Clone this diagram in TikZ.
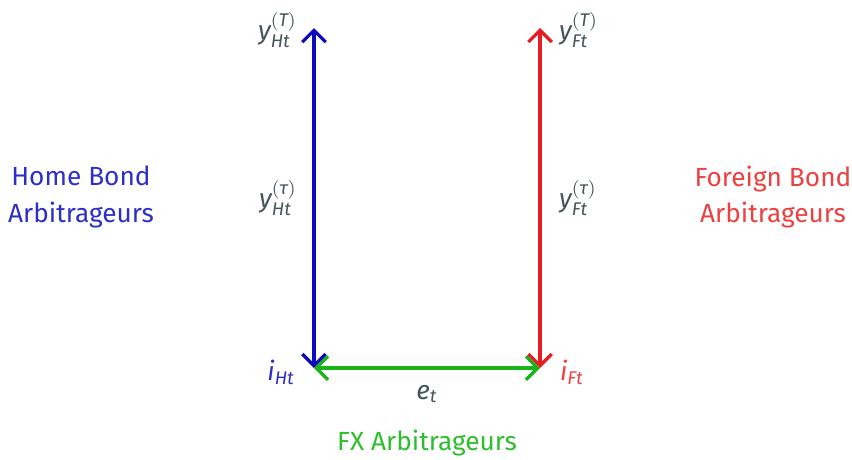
\documentclass[tikz,border=0pt]{standalone}
\usepackage{amsmath}
\usepackage{fontspec}
\setmainfont{Fira Sans}
\usepackage{xcolor}
\usepackage{tikz}
\usetikzlibrary{arrows.meta, positioning}
\definecolor{HomeBlue}{RGB}{10, 10, 190}
\definecolor{HomeText}{RGB}{45, 45, 200}
\definecolor{ForRed}{RGB}{230, 30, 35}
\definecolor{ForText}{RGB}{235, 65, 65}
\definecolor{FxGreen}{RGB}{25, 180, 25}
\definecolor{FxText}{RGB}{45, 190, 45}
\definecolor{LabelGray}{RGB}{70, 85, 88}
\newcommand{\fv}[1]{\text{\itshape #1}}
\tikzset{
  leg/.style={line width=1.4pt, {Straight Barb[length=5pt, width=10pt]}-{Straight Barb[length=5pt, width=10pt]}},
  rate/.style={text=LabelGray, inner sep=2pt},
  group/.style={align=center, font=\fontsize{11.2}{15.5}\selectfont}
}

\begin{document}
\begin{tikzpicture}[x=0.015cm, y=-0.015cm, font=\fontsize{11.2}{14}\selectfont]
  \useasboundingbox (0,0) rectangle (852,459);

  % corners of the square
  \coordinate (HT) at (314,28);
  \coordinate (HB) at (314,368);
  \coordinate (FT) at (540,28);
  \coordinate (FB) at (540,368);

  \draw[leg, HomeBlue] (HB) -- (HT);
  \draw[leg, ForRed] (FB) -- (FT);
  \draw[leg, FxGreen] (HB) -- (FB);

  % yields and rates
  \node[rate, anchor=east] (yHT) at (302,30) {$\fv{y}_{\fv{Ht}}^{(\fv{T})}$};
  \node[rate, anchor=east] (yHtau) at (302,198) {$\fv{y}_{\fv{Ht}}^{(\fv{τ})}$};
  \node[rate, anchor=east, text=HomeText] (iH) at (300,372) {$\fv{i}_{\fv{Ht}}$};
  \node[rate, anchor=west] (yFT) at (554,30) {$\fv{y}_{\fv{Ft}}^{(\fv{T})}$};
  \node[rate, anchor=west] (yFtau) at (554,198) {$\fv{y}_{\fv{Ft}}^{(\fv{τ})}$};
  \node[rate, anchor=west, text=ForText] (iF) at (555,372) {$\fv{i}_{\fv{Ft}}$};
  \node[rate] (eT) at (427,394) {$\fv{e}_{\fv{t}}$};

  % arbitrageurs
  \node[group, text=HomeText] (home) at (81,197) {Home Bond\\Arbitrageurs};
  \node[group, text=ForText] (foreign) at (773,197) {Foreign Bond\\Arbitrageurs};
  \node[group, text=FxText] (fx) at (427,443) {FX Arbitrageurs};
\end{tikzpicture}
\end{document}
